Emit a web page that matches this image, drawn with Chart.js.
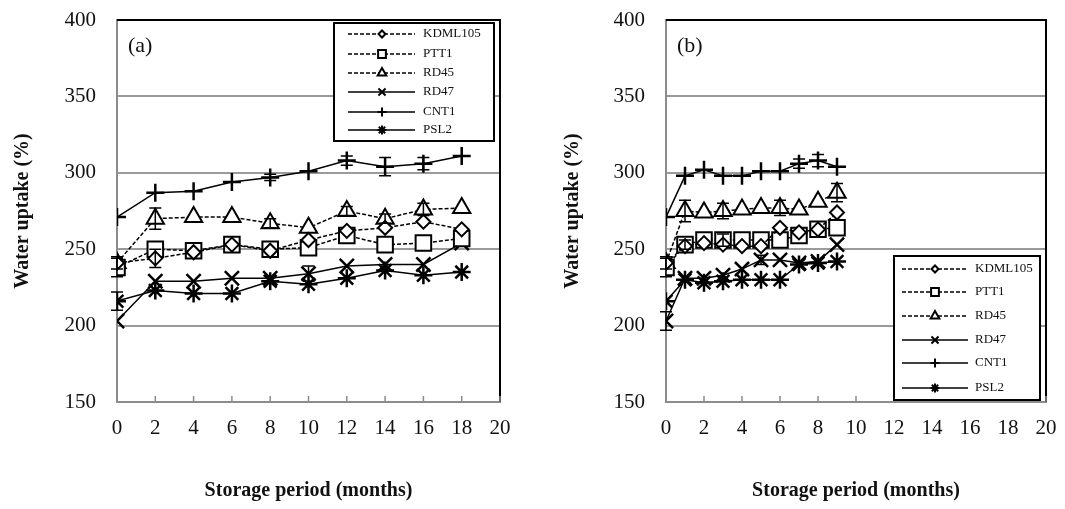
<!DOCTYPE html>
<html>
<head>
<meta charset="utf-8">
<script src="https://cdn.jsdelivr.net/npm/chart.js@4.4.1/dist/chart.umd.min.js"></script>
<style>
html, body { margin: 0; padding: 0; background: #fff; }
#wrap { position: relative; width: 1065px; height: 509px; }
.panel { position: absolute; top: 0; height: 509px; }
#pa { left: 0; width: 540px; }
#pb { left: 540px; width: 525px; }
</style>
</head>
<body>
<div id="wrap">
  <div class="panel" id="pa"><canvas id="chartA"></canvas></div>
  <div class="panel" id="pb"><canvas id="chartB"></canvas></div>
</div>
<script>
// === DATA ===
const seriesNames = ['KDML105', 'PTT1', 'RD45', 'RD47', 'CNT1', 'PSL2'];
const xTicks = [0, 2, 4, 6, 8, 10, 12, 14, 16, 18, 20];
const yTicks = [150, 200, 250, 300, 350, 400];

// panel (a) - 18 months
const monthsA = [0, 2, 4, 6, 8, 10, 12, 14, 16, 18];
const kdmlA = [241, 244, 248, 253, 249, 256, 262, 264, 268, 263];
const pttA  = [238, 250, 249, 253, 250, 251, 259, 253, 254, 257];
const rd45A = [241, 270, 271, 271, 267, 264, 275, 270, 276, 277];
const rd47A = [203, 229, 229, 231, 231, 234, 239, 240, 240, 254];
const cnt1A = [271, 287, 288, 294, 297, 301, 308, 304, 306, 311];
const psl2A = [216, 223, 221, 221, 229, 227, 231, 236, 233, 235];
// error bars (a)
const kdmlErrA = [0, 6, 0, 0, 0, 0, 0, 0, 0, 0];
const pttErrA  = [6, 0, 0, 0, 0, 0, 0, 0, 0, 0];
const rd45ErrA = [4, 7, 0, 0, 3, 0, 3, 3, 4, 0];
const rd47ErrA = [0, 0, 0, 0, 0, 5, 0, 0, 0, 0];
const cnt1ErrA = [0, 0, 0, 0, 2, 0, 3, 6, 4, 0];
const psl2ErrA = [6, 0, 0, 0, 0, 0, 0, 0, 0, 0];

// panel (b) - 9 months
const monthsB = [0, 1, 2, 3, 4, 5, 6, 7, 8, 9];
const kdmlB = [241, 252, 254, 253, 252, 252, 264, 261, 263, 274];
const pttB  = [238, 253, 256, 256, 256, 256, 256, 259, 263, 264];
const rd45B = [241, 275, 274, 275, 276, 277, 277, 276, 281, 287];
const rd47B = [203, 231, 231, 233, 237, 243, 243, 241, 242, 253];
const cnt1B = [271, 298, 302, 298, 298, 301, 301, 306, 308, 304];
const psl2B = [216, 230, 228, 229, 230, 230, 230, 240, 241, 242];
// error bars (b)
const kdmlErrB = [0, 0, 0, 0, 0, 0, 0, 0, 0, 0];
const pttErrB  = [6, 3, 0, 4, 0, 0, 0, 0, 0, 0];
const rd45ErrB = [4, 7, 0, 5, 0, 0, 5, 0, 0, 6];
const rd47ErrB = [6, 0, 0, 0, 0, 3, 0, 0, 0, 0];
const cnt1ErrB = [0, 0, 0, 0, 0, 0, 0, 3, 4, 0];
const psl2ErrB = [0, 0, 0, 0, 0, 0, 0, 0, 0, 0];

// === STYLE ===
const SERIF = "'Liberation Serif', 'Times New Roman', serif";
const styles = [
    { pointStyle: 'rectRot',  pointRadius: 7,  dash: [4, 2], bw: 2 },
    { pointStyle: 'rect',     pointRadius: 11, dash: [4, 2], bw: 2 },
    { pointStyle: 'triangle', pointRadius: 10, dash: [4, 2], bw: 2 },
    { pointStyle: 'crossRot', pointRadius: 10, dash: [],     bw: 2.5 },
    { pointStyle: 'cross',    pointRadius: 9,  dash: [],     bw: 2.5 },
    { pointStyle: 'star',     pointRadius: 9,  dash: [],     bw: 2.5 }
];

function buildDatasets(months, series, errs) {
    return series.map((vals, i) => ({
        label: seriesNames[i],
        data: months.map((m, j) => ({ x: m, y: vals[j] })),
        err: errs[i],
        showLine: true,
        borderColor: '#000',
        borderWidth: 1.5,
        borderDash: styles[i].dash,
        pointStyle: styles[i].pointStyle,
        pointRadius: styles[i].pointRadius,
        pointBackgroundColor: '#fff',
        pointBorderColor: '#000',
        pointBorderWidth: styles[i].bw,
        tension: 0
    }));
}

// frame, inner x ticks, panel label
const framePlugin = {
    id: 'frame',
    beforeDatasetsDraw(chart, args, opts) {
        const { ctx, chartArea: { left, right, top, bottom } } = chart;
        ctx.save();
        ctx.strokeStyle = '#000';
        ctx.lineWidth = 2;
        ctx.beginPath();
        ctx.moveTo(left, top);
        ctx.lineTo(right, top);
        ctx.lineTo(right, bottom);
        ctx.stroke();
        const xs = chart.scales.x;
        ctx.strokeStyle = '#8c8c8c';
        ctx.lineWidth = 1.5;
        ctx.beginPath();
        xs.ticks.forEach(t => {
            const px = xs.getPixelForValue(t.value);
            ctx.moveTo(px, bottom);
            ctx.lineTo(px, bottom - 6);
        });
        ctx.stroke();
        ctx.fillStyle = '#111';
        ctx.font = '22px ' + SERIF;
        ctx.textBaseline = 'middle';
        ctx.fillText(opts.label, left + 11, top + 26);
        ctx.restore();
    }
};

const errorBarPlugin = {
    id: 'errorBars',
    afterDatasetsDraw(chart) {
        const { ctx } = chart;
        const ys = chart.scales.y;
        ctx.save();
        ctx.strokeStyle = '#000';
        ctx.lineWidth = 1.5;
        chart.data.datasets.forEach((ds, i) => {
            const meta = chart.getDatasetMeta(i);
            meta.data.forEach((pt, j) => {
                const e = ds.err[j];
                if (!e) return;
                const v = ds.data[j].y;
                const y1 = ys.getPixelForValue(v + e);
                const y2 = ys.getPixelForValue(v - e);
                ctx.beginPath();
                ctx.moveTo(pt.x, y1); ctx.lineTo(pt.x, y2);
                ctx.moveTo(pt.x - 6, y1); ctx.lineTo(pt.x + 6, y1);
                ctx.moveTo(pt.x - 6, y2); ctx.lineTo(pt.x + 6, y2);
                ctx.stroke();
            });
        });
        ctx.restore();
    }
};

const boxLegendPlugin = {
    id: 'boxLegend',
    afterDraw(chart, args, opts) {
        const { ctx } = chart;
        const b = opts.box;
        ctx.save();
        ctx.fillStyle = '#fff';
        ctx.fillRect(b.x, b.y, b.w, b.h);
        ctx.strokeStyle = '#000';
        ctx.lineWidth = 2;
        ctx.strokeRect(b.x, b.y, b.w, b.h);
        ctx.font = '13px ' + SERIF;
        ctx.textBaseline = 'middle';
        chart.data.datasets.forEach((ds, i) => {
            const y = opts.rows[i];
            ctx.strokeStyle = '#000';
            ctx.lineWidth = 1.5;
            ctx.setLineDash(ds.borderDash);
            ctx.beginPath();
            ctx.moveTo(opts.lineX0, y);
            ctx.lineTo(opts.lineX1, y);
            ctx.stroke();
            ctx.setLineDash([]);
            ctx.fillStyle = '#fff';
            ctx.lineWidth = 2;
            Chart.helpers.drawPoint(ctx, {
                pointStyle: ds.pointStyle,
                radius: ds.pointRadius * 0.5,
                rotation: 0,
                borderWidth: 2
            }, opts.markX, y);
            ctx.fillStyle = '#111';
            ctx.fillText(ds.label, opts.textX, y);
        });
        ctx.restore();
    }
};

function makeChart(id, months, series, errs, cfg) {
    return new Chart(document.getElementById(id), {
        type: 'scatter',
        data: { datasets: buildDatasets(months, series, errs) },
        options: {
            responsive: true, maintainAspectRatio: false, animation: false,
            layout: { padding: { top: 20, right: cfg.padRight, left: 0, bottom: 0 } },
            plugins: {
                legend: { display: false },
                tooltip: { enabled: false },
                frame: { label: cfg.label },
                boxLegend: cfg.legend
            },
            scales: {
                x: {
                    type: 'linear', min: 0, max: 20,
                    afterBuildTicks: s => { s.ticks = xTicks.map(v => ({ value: v })); },
                    afterFit: s => { s.height = 107; s.paddingLeft = 0; s.paddingRight = 0; },
                    grid: { drawOnChartArea: false, drawTicks: false },
                    border: { color: '#8c8c8c', width: 2 },
                    ticks: { padding: 14, color: '#111', font: { family: SERIF, size: 21 }, maxRotation: 0 },
                    title: { display: true, text: 'Storage period (months)', color: '#111',
                        font: { family: SERIF, size: 20, weight: 'bold' }, padding: { top: 0, bottom: 6 } }
                },
                y: {
                    type: 'linear', min: 150, max: 400,
                    afterBuildTicks: s => { s.ticks = yTicks.map(v => ({ value: v })); },
                    afterFit: s => { s.width = cfg.yWidth; s.paddingTop = 0; s.paddingBottom = 0; },
                    grid: { color: '#9a9a9a', lineWidth: 2, drawTicks: false },
                    border: { color: '#8c8c8c', width: 2 },
                    ticks: { padding: 21, color: '#111', font: { family: SERIF, size: 21 } },
                    title: { display: true, text: 'Water uptake (%)', color: '#111',
                        font: { family: SERIF, size: 20, weight: 'bold' }, padding: { top: cfg.titlePad, bottom: 0 } }
                }
            }
        },
        plugins: [framePlugin, errorBarPlugin, boxLegendPlugin]
    });
}

makeChart('chartA', monthsA,
    [kdmlA, pttA, rd45A, rd47A, cnt1A, psl2A],
    [kdmlErrA, pttErrA, rd45ErrA, rd47ErrA, cnt1ErrA, psl2ErrA],
    {
        yWidth: 117, padRight: 40, titlePad: 11, label: '(a)',
        legend: { box: { x: 334, y: 23, w: 160, h: 118 },
                  rows: [34, 54, 73, 92, 112, 130], lineX0: 348, lineX1: 415, markX: 382, textX: 423 }
    });

makeChart('chartB', monthsB,
    [kdmlB, pttB, rd45B, rd47B, cnt1B, psl2B],
    [kdmlErrB, pttErrB, rd45ErrB, rd47ErrB, cnt1ErrB, psl2ErrB],
    {
        yWidth: 126, padRight: 19, titlePad: 21, label: '(b)',
        legend: { box: { x: 354, y: 256, w: 146, h: 144 },
                  rows: [269, 292, 316, 340, 363, 388], lineX0: 362, lineX1: 428, markX: 395, textX: 435 }
    });
</script>
</body>
</html>
